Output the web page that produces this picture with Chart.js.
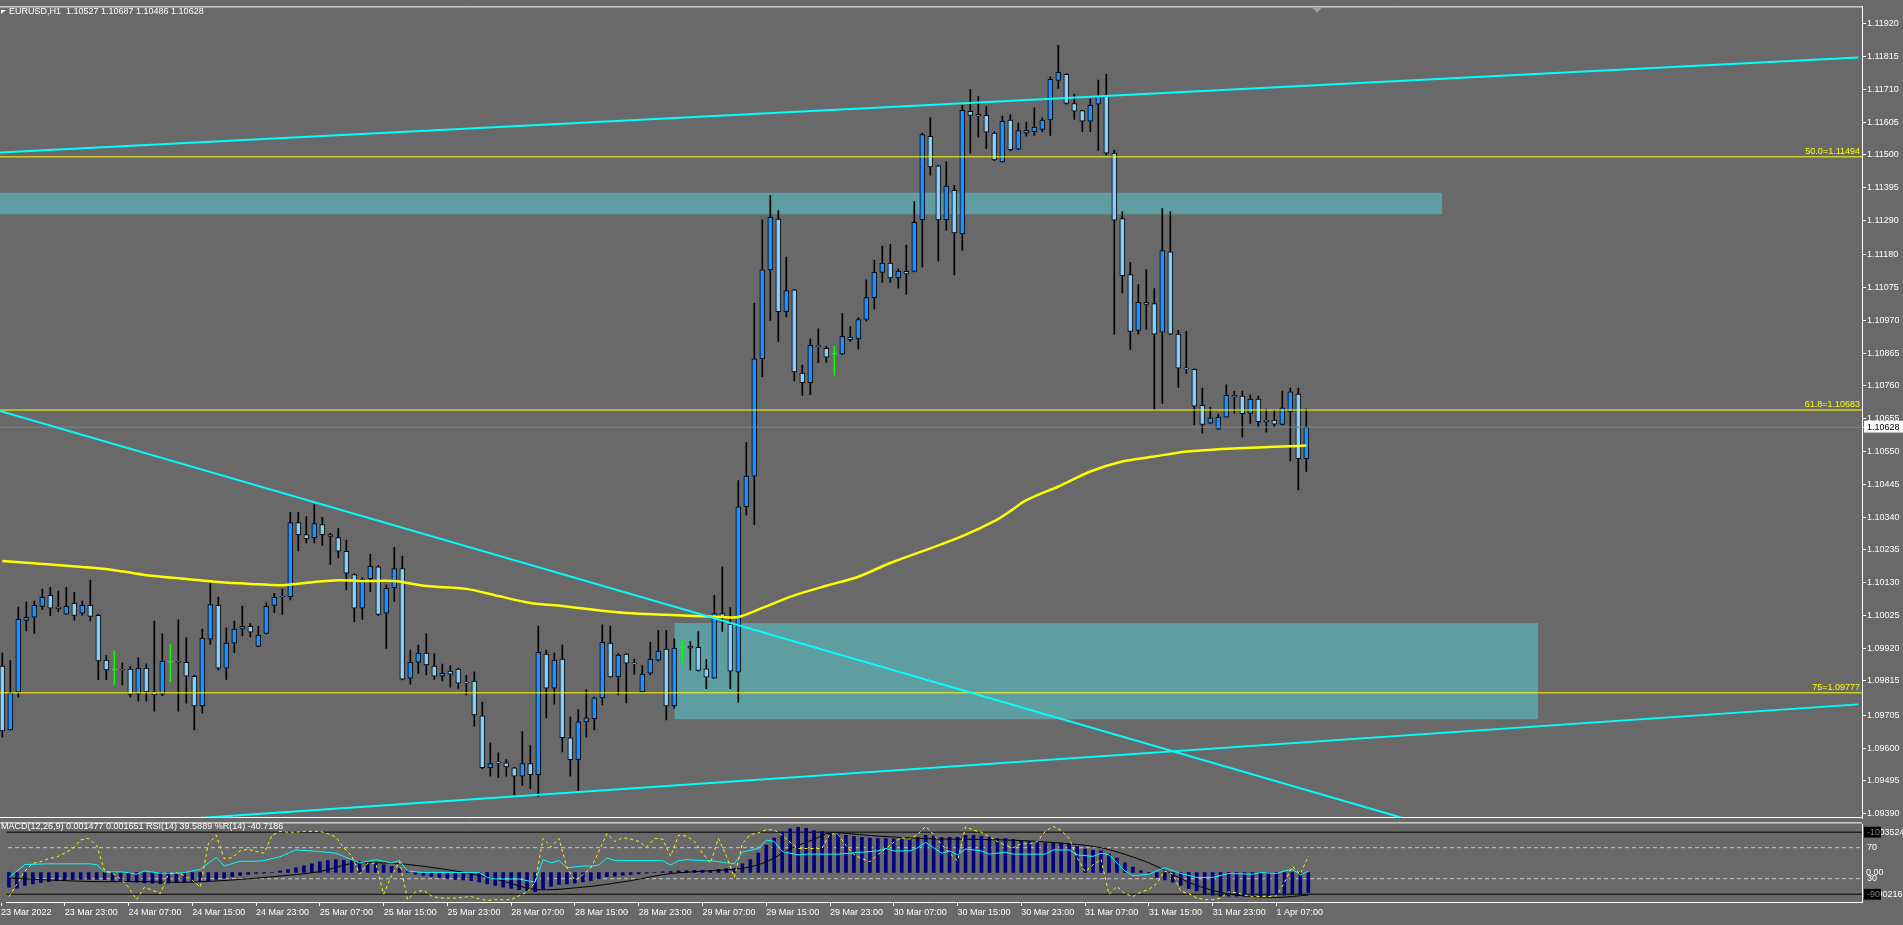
<!DOCTYPE html>
<html>
<head>
<meta charset="utf-8">
<title>EURUSD,H1</title>
<script src="https://cdn.jsdelivr.net/npm/chart.js"></script>
<style>
  html, body { margin: 0; padding: 0; background: #696969; overflow: hidden; }
  #wrap { position: relative; width: 1903px; height: 925px; }
  canvas { position: absolute; left: 0; }
  #main { top: 0; }
  #ind { top: 818px; }
</style>
</head>
<body>
<div id="wrap">
  <canvas id="main" width="1903" height="925"></canvas>
  <canvas id="ind" width="1903" height="107"></canvas>
</div>
<script>
// ---- price axis ----
const PRICE_TICKS = [1.11920, 1.11815, 1.11710, 1.11605, 1.11500, 1.11395, 1.11290, 1.11180, 1.11075,
  1.10970, 1.10865, 1.10760, 1.10655, 1.10550, 1.10445, 1.10340, 1.10235, 1.10130, 1.10025,
  1.09920, 1.09815, 1.09705, 1.09600, 1.09495, 1.09390];
const Y_MIN = 1.09376;
const Y_MAX = 1.11976;
const X_MIN = -0.29;
const X_MAX = 232.46;

// ---- time axis (bar index -> label) ----
const TIME_TICKS = [-1, 7, 15, 23, 31, 39, 47, 55, 63, 71, 79, 87, 95, 103, 111, 119, 127, 135, 143, 151, 159];
const TIME_LABELS = ['23 Mar 2022', '23 Mar 23:00', '24 Mar 07:00', '24 Mar 15:00', '24 Mar 23:00',
  '25 Mar 07:00', '25 Mar 15:00', '25 Mar 23:00', '28 Mar 07:00', '28 Mar 15:00', '28 Mar 23:00',
  '29 Mar 07:00', '29 Mar 15:00', '29 Mar 23:00', '30 Mar 07:00', '30 Mar 15:00', '30 Mar 23:00',
  '31 Mar 07:00', '31 Mar 15:00', '31 Mar 23:00', '1 Apr 07:00'];

// ---- H1 candles ----
const OPEN = [
  1.09863,1.09658,1.09779,1.10009,1.10019,1.10054,1.10089,1.10052,1.10029,1.10064,
  1.10032,1.10057,1.10025,1.09882,1.09850,1.09852,1.09853,1.09773,1.09856,1.09780,
  1.09773,1.09875,1.09877,1.09875,1.09830,1.09735,1.09949,1.10057,1.09856,1.09936,
  1.09981,1.09990,1.09926,1.09967,1.10057,1.10086,1.10085,1.10322,1.10284,1.10274,
  1.10316,1.10284,1.10274,1.10230,1.10156,1.10048,1.10143,1.10181,1.10032,1.10114,
  1.10175,1.09824,1.09875,1.09904,1.09863,1.09830,1.09847,1.09853,1.09810,1.09815,
  1.09703,1.09537,1.09554,1.09553,1.09537,1.09510,1.09550,1.09515,1.09901,1.09792,
  1.09885,1.09633,1.09563,1.09684,1.09694,1.09761,1.09936,1.09828,1.09901,1.09872,
  1.09780,1.09840,1.09882,1.09917,1.09735,1.09922,1.09920,1.09923,1.09854,1.09824,
  1.10031,1.09997,1.09843,1.10373,1.10471,1.10847,1.11132,1.11295,1.10998,1.11068,
  1.10801,1.10771,1.10888,1.10881,1.10862,1.10862,1.10916,1.10911,1.10973,1.11043,
  1.11124,1.11154,1.11106,1.11127,1.11127,1.11292,1.11560,1.11465,1.11292,1.11387,
  1.11247,1.11640,1.11630,1.11627,1.11570,1.11478,1.11612,1.11519,1.11570,1.11575,
  1.11582,1.11612,1.11739,1.11758,1.11665,1.11642,1.11608,1.11663,1.11691,1.11506,
  1.11296,1.11117,1.10938,1.11028,1.11024,1.10932,1.11190,1.10926,1.10817,1.10813,
  1.10698,1.10641,1.10622,1.10660,1.10730,1.10728,1.10672,1.10718,1.10651,1.10651,
  1.10637,1.10677,1.10734,1.10527];
const HIGH = [
  1.09905,1.09880,1.10052,1.10068,1.10071,1.10109,1.10115,1.10103,1.10115,1.10099,
  1.10071,1.10138,1.10029,1.09896,1.09912,1.09873,1.09861,1.09889,1.09870,1.10007,
  1.09966,1.09932,1.10011,1.09953,1.09833,1.09981,1.10127,1.10084,1.09985,1.10007,
  1.10055,1.09999,1.09990,1.10065,1.10096,1.10109,1.10355,1.10355,1.10342,1.10380,
  1.10339,1.10288,1.10303,1.10266,1.10158,1.10145,1.10221,1.10185,1.10123,1.10243,
  1.10215,1.09914,1.09930,1.09966,1.09902,1.09869,1.09864,1.09856,1.09833,1.09844,
  1.09747,1.09617,1.09585,1.09563,1.09538,1.09653,1.09608,1.09991,1.09914,1.09905,
  1.09931,1.09700,1.09723,1.09787,1.09763,1.09995,1.09991,1.09903,1.09903,1.09885,
  1.09864,1.09939,1.09977,1.09977,1.09950,1.09946,1.09941,1.09973,1.09884,1.10089,
  1.10181,1.10050,1.10457,1.10579,1.11025,1.11292,1.11370,1.11322,1.11173,1.11070,
  1.10827,1.10911,1.10943,1.10887,1.10887,1.10993,1.10950,1.10979,1.11100,1.11163,
  1.11208,1.11214,1.11135,1.11211,1.11351,1.11570,1.11619,1.11468,1.11478,1.11403,
  1.11659,1.11710,1.11687,1.11655,1.11574,1.11625,1.11629,1.11603,1.11605,1.11651,
  1.11619,1.11750,1.11851,1.11761,1.11695,1.11643,1.11679,1.11740,1.11758,1.11516,
  1.11318,1.11156,1.11085,1.11133,1.11072,1.11328,1.11318,1.10938,1.10935,1.10814,
  1.10753,1.10692,1.10670,1.10764,1.10743,1.10744,1.10732,1.10728,1.10686,1.10681,
  1.10744,1.10753,1.10753,1.10687];
const LOW = [
  1.09635,1.09657,1.09763,1.09975,1.09967,1.10043,1.10024,1.10037,1.10028,1.10010,
  1.10026,1.10007,1.09819,1.09819,1.09804,1.09802,1.09763,1.09750,1.09750,1.09718,
  1.09768,1.09813,1.09718,1.09744,1.09658,1.09712,1.09933,1.09850,1.09820,1.09906,
  1.09959,1.09956,1.09925,1.09966,1.10034,1.10028,1.10075,1.10232,1.10257,1.10257,
  1.10249,1.10188,1.10209,1.10107,1.10005,1.10012,1.10101,1.10024,1.09919,1.10070,
  1.09818,1.09805,1.09839,1.09834,1.09820,1.09815,1.09795,1.09791,1.09770,1.09670,
  1.09534,1.09510,1.09505,1.09510,1.09450,1.09480,1.09470,1.09445,1.09697,1.09741,
  1.09588,1.09510,1.09464,1.09635,1.09658,1.09738,1.09827,1.09770,1.09745,1.09837,
  1.09779,1.09834,1.09879,1.09690,1.09728,1.09874,1.09850,1.09846,1.09790,1.09824,
  1.09974,1.09790,1.09747,1.10346,1.10316,1.10790,1.10970,1.10903,1.10981,1.10776,
  1.10730,1.10732,1.10835,1.10836,1.10795,1.10860,1.10903,1.10878,1.10968,1.11006,
  1.11092,1.11092,1.11073,1.11054,1.11125,1.11141,1.11435,1.11160,1.11259,1.11116,
  1.11195,1.11506,1.11557,1.11520,1.11482,1.11477,1.11513,1.11517,1.11560,1.11563,
  1.11575,1.11563,1.11713,1.11663,1.11614,1.11575,1.11575,1.11515,1.11500,1.10926,
  1.11058,1.10877,1.10926,1.10941,1.10685,1.10704,1.10924,1.10755,1.10800,1.10636,
  1.10609,1.10640,1.10621,1.10659,1.10672,1.10596,1.10640,1.10628,1.10612,1.10629,
  1.10635,1.10520,1.10427,1.10486];
const CLOSE = [
  1.09655,1.09777,1.10013,1.10019,1.10057,1.10083,1.10048,1.10046,1.10054,1.10025,
  1.10057,1.10022,1.09879,1.09850,1.09850,1.09850,1.09772,1.09856,1.09780,1.09770,
  1.09879,1.09875,1.09875,1.09830,1.09735,1.09952,1.10060,1.09856,1.09936,1.09981,
  1.09990,1.09971,1.09962,1.10054,1.10083,1.10084,1.10322,1.10284,1.10271,1.10319,
  1.10284,1.10278,1.10231,1.10160,1.10048,1.10141,1.10182,1.10028,1.10112,1.10175,
  1.09821,1.09875,1.09904,1.09866,1.09830,1.09840,1.09837,1.09808,1.09808,1.09706,
  1.09537,1.09550,1.09552,1.09540,1.09510,1.09550,1.09515,1.09907,1.09792,1.09882,
  1.09633,1.09563,1.09684,1.09697,1.09761,1.09939,1.09828,1.09898,1.09872,1.09870,
  1.09837,1.09885,1.09911,1.09735,1.09920,1.09922,1.09927,1.09849,1.09827,1.10031,
  1.10019,1.09846,1.10373,1.10471,1.10847,1.11132,1.11300,1.10998,1.11066,1.10805,
  1.10771,1.10890,1.10886,1.10852,1.10862,1.10919,1.10908,1.10973,1.11043,1.11124,
  1.11154,1.11106,1.11128,1.11119,1.11284,1.11565,1.11462,1.11292,1.11400,1.11250,
  1.11643,1.11627,1.11624,1.11573,1.11484,1.11608,1.11517,1.11578,1.11580,1.11589,
  1.11612,1.11742,1.11765,1.11665,1.11640,1.11608,1.11659,1.11688,1.11506,1.11291,
  1.11113,1.10935,1.11028,1.11021,1.10926,1.11194,1.10926,1.10817,1.10815,1.10695,
  1.10637,1.10658,1.10660,1.10730,1.10725,1.10671,1.10718,1.10646,1.10645,1.10638,
  1.10690,1.10741,1.10527,1.10628];

// ---- moving average (yellow), read at sample bars ----
const MA_X = [0,6,10,14,18,23,27,31,35,39,42,45,49,53,58,62,66,70,74,78,83,90,92,95,99,103,107,111,116,120,124,126,128,132,136,140,144,148,152,157,161,163];
const MA_VAL = [1.10199,1.10188,1.10180,1.10170,1.10154,1.10142,1.10132,1.10126,1.10122,1.10132,1.10138,1.10135,1.10135,1.10119,1.10110,1.10087,1.10065,1.10055,1.10043,1.10033,1.10027,1.10020,1.10020,1.10049,1.10089,1.10120,1.10149,1.10193,1.10240,1.10279,1.10327,1.10359,1.10394,1.10438,1.10486,1.10518,1.10534,1.10550,1.10557,1.10563,1.10567,1.10569];

// ---- objects ----
const FIB_NAMES = ['50.0', '61.8', '75'];
const FIB_LEVELS = [1.11494, 1.10683, 1.09777];
const ZONE_FROM = [-1, 84];
const ZONE_TO = [180, 192];
const ZONE_TOP = [1.11379, 1.10001];
const ZONE_BOTTOM = [1.11310, 1.09692];
const TREND_X0 = [-1, -1, -1];
const TREND_Y0 = [1.11507, 1.09331, 1.10685];
const TREND_X1 = [232, 232, 190];
const TREND_Y1 = [1.11812, 1.09740, 1.09265];

// ---- indicator window ----
const MACD = [
  -0.001071,-0.001142,-0.000952,-0.000834,-0.000739,-0.000668,-0.000597,-0.00055,-0.000526,-0.000502,
  -0.000502,-0.000502,-0.000526,-0.000573,-0.000621,-0.000668,-0.000715,-0.000763,-0.000787,-0.00081,
  -0.000787,-0.000739,-0.000715,-0.000692,-0.000668,-0.000597,-0.000502,-0.000407,-0.000313,-0.000218,
  -0.000147,-0.000076,-0.000052,0.00001,0.000114,0.000208,0.000351,0.000493,0.000635,0.000777,
  0.000872,0.000943,0.000919,0.000872,0.000801,0.00073,0.000659,0.000564,0.000445,0.000303,
  0.000114,-0.000123,-0.000218,-0.000289,-0.00036,-0.000431,-0.000502,-0.00055,-0.000597,-0.000692,
  -0.000834,-0.000952,-0.001071,-0.001166,-0.001261,-0.001331,-0.001402,-0.001189,-0.001023,-0.000881,
  -0.000834,-0.000787,-0.000692,-0.000597,-0.000479,-0.000313,-0.000265,-0.000194,-0.000147,-0.0001,
  -0.000052,0.00001,0.000043,0.000066,0.000114,0.000137,0.000161,0.000161,0.000161,0.000232,
  0.00028,0.00028,0.000635,0.000943,0.001417,0.002009,0.00253,0.002957,0.003194,0.003312,
  0.003241,0.003075,0.003004,0.002886,0.002791,0.00272,0.002625,0.002577,0.00253,0.002483,
  0.002483,0.002459,0.002435,0.002483,0.002577,0.00272,0.002672,0.002554,0.002577,0.002577,
  0.00272,0.00272,0.002672,0.002601,0.002483,0.002483,0.002412,0.002341,0.002269,0.002198,
  0.002151,0.002198,0.002151,0.002056,0.001891,0.001725,0.00163,0.001583,0.001346,0.001061,
  0.000706,0.000398,0.000114,-0.000028,-0.00036,-0.00055,-0.000715,-0.000952,-0.001189,-0.001355,
  -0.001545,-0.001663,-0.001734,-0.001734,-0.001734,-0.001734,-0.001687,-0.001734,-0.001734,-0.001687,
  -0.001663,-0.001545,-0.001592,-0.001477];
const SIG_X = [0,5,11,17,22,28,33,39,43,47,50,56,61,66,72,78,83,92,95,98,101,103,106,109,115,120,126,131,137,143,148,151,154,159,163];
const SIG_VAL = [-0.000405,-0.000547,-0.000668,-0.000668,-0.000718,-0.000547,-0.000313,0.000064,0.000661,0.000703,0.00059,0.000114,-0.000476,-0.001236,-0.001073,-0.000597,-0.000078,0.000306,0.000775,0.001727,0.002437,0.002906,0.002814,0.002672,0.00248,0.002437,0.002366,0.002196,0.001819,0.000703,-0.000718,-0.001308,-0.001663,-0.001826,-0.001651];
const RSI_X = [0,2,5,10,11,12,14,15,16,17,19,21,22,24,25,26,27,29,31,32,34,36,39,41,43,44,46,48,49,50,52,59,60,61,64,65,66,67,68,69,70,72,73,74,75,76,82,83,84,85,87,88,91,92,94,95,96,97,99,100,102,104,107,109,110,111,113,114,115,117,118,119,120,122,123,125,126,130,131,133,134,136,137,138,139,140,141,143,145,147,149,151,153,156,157,159,160,161,162,163];
const RSI_VAL = [31.7,48.3,49.2,49.2,48.3,38.8,38.8,37.9,35.8,40,37.1,37.1,37.9,42,50,57.5,46.3,52.5,52.5,53.3,58.3,67.1,65,62.9,54.6,50.4,54.6,50.4,53.3,40,37.9,37.9,31.7,29.6,29.6,27.5,25.4,54.6,50.4,53.3,44.2,46.3,46.3,47.5,56.7,53.3,53.3,47.5,53.3,54.6,53.3,53.3,49.2,64.2,69.2,79.6,78.3,65,60.8,61.7,61.7,61.7,64.2,65.8,69.2,65.8,65.8,70,76.7,62.9,65.8,60.8,68.3,65.8,61.7,64.2,61.7,61.7,67.1,67.1,60.8,58.8,62.9,60.8,50.4,40,33.8,35.8,44.2,36.7,31.7,31.7,36.7,35.8,37.9,36.7,40,42.1,35,39.5889];
const WPR = [
  -93,-77,-60,-50,-48,-44,-42,-37,-31,-20,
  -18,-27,-60,-63,-70,-81,-97,-81,-85,-89,
  -64,-62,-66,-72,-81,-25,-14,-44,-43,-34,
  -32,-35,-37,-14,-9,-10,-10,-9,-9,-9,
  -12,-16,-30,-41,-64,-50,-50,-90,-66,-48,
  -97,-87,-85,-92,-95,-95,-95,-94,-93,-96,
  -98,-97,-97,-97,-92,-87,-75,-18,-29,-18,
  -56,-72,-65,-56,-35,-12,-22,-17,-19,-22,
  -29,-18,-19,-41,-14,-15,-22,-37,-50,-18,
  -41,-68,-25,-13,-11,-7,-7,-14,-23,-31,
  -31,-31,-31,-12,-13,-27,-39,-44,-48,-39,
  -31,-23,-17,-19,-13,-2.5,-13,-26,-37,-47,
  -3,-7.5,-10,-16,-22,-27,-30,-25,-25,-22,
  -9,-2.5,-8,-18,-43,-61,-52,-45,-90,-80,
  -89,-93,-87,-84,-76,-60,-64,-86,-89,-95,
  -97,-97,-95,-87,-88,-91,-93,-93,-93,-92,
  -75,-54,-64,-40.7186];
const MACD_MAX = 0.003524;
const MACD_MIN = -0.002161;
const RSI_LEVELS = [70, 30];
const WPR_LEVELS = [-10, -90];

const FONT = { family: '"Liberation Sans", Arial, sans-serif', size: 9 };
const FONT_CSS = '9px "Liberation Sans", Arial, sans-serif';
const BULL = '#1e90ff';
const BEAR = '#87cefa';
const DOJI = '#00ff00';

const last = CLOSE.length - 1;
const LAST_PRICE = CLOSE[last];

function barColor(i) {
  if (CLOSE[i] > OPEN[i]) return BULL;
  if (CLOSE[i] < OPEN[i]) return BEAR;
  return DOJI;
}

function hLine(x0, x1, y) {
  return [{ x: x0, y: y }, { x: x1, y: y }];
}

// labels, frame and header drawn on top of the price window
const priceWindow = {
  id: 'priceWindow',
  afterDraw(chart) {
    const { ctx, chartArea: a, scales: { y } } = chart;
    ctx.save();
    ctx.font = FONT_CSS;

    ctx.fillStyle = '#ffff00';
    ctx.textAlign = 'right';
    ctx.textBaseline = 'bottom';
    FIB_LEVELS.forEach((lv, i) => {
      ctx.fillText(FIB_NAMES[i] + '=' + lv.toFixed(5), a.right - 2, Math.round(y.getPixelForValue(lv)) - 1);
    });

    ctx.strokeStyle = '#ffffff';
    ctx.lineWidth = 1;
    ctx.beginPath();
    ctx.moveTo(0, a.top + 0.5);
    ctx.lineTo(a.right, a.top + 0.5);
    ctx.moveTo(0, a.bottom - 0.5);
    ctx.lineTo(a.right, a.bottom - 0.5);
    ctx.stroke();

    // chart shift marker
    ctx.fillStyle = '#a0a0a0';
    ctx.beginPath();
    ctx.moveTo(1312, a.top + 1);
    ctx.lineTo(1322, a.top + 1);
    ctx.lineTo(1317, a.top + 6);
    ctx.closePath();
    ctx.fill();

    ctx.fillStyle = '#ffffff';
    ctx.beginPath();
    ctx.moveTo(1, 10);
    ctx.lineTo(6, 10);
    ctx.lineTo(1, 14);
    ctx.closePath();
    ctx.fill();

    ctx.textAlign = 'left';
    ctx.textBaseline = 'middle';
    const hdr = 'EURUSD,H1  ' + [OPEN[last], HIGH[last], LOW[last], CLOSE[last]].map(v => v.toFixed(5)).join(' ');
    ctx.fillText(hdr, 9, 12);
    ctx.restore();
  }
};

const mainDatasets = [];
ZONE_FROM.forEach((x0, i) => {
  mainDatasets.push({
    type: 'line', data: hLine(x0, ZONE_TO[i], ZONE_TOP[i]),
    fill: { value: ZONE_BOTTOM[i] }, backgroundColor: '#5f9ea0',
    borderColor: 'rgba(0,0,0,0)', borderWidth: 0, pointRadius: 0, order: 20
  });
});
mainDatasets.push({
  type: 'bar', label: 'wick',
  data: OPEN.map((o, i) => ({ x: i, y: [LOW[i], HIGH[i]] })),
  backgroundColor: OPEN.map((o, i) => barColor(i) === DOJI ? DOJI : '#000000'),
  barThickness: 1, grouped: false, order: 12
});
mainDatasets.push({
  type: 'bar', label: 'body',
  data: OPEN.map((o, i) => ({ x: i, y: [o, CLOSE[i]] })),
  backgroundColor: OPEN.map((o, i) => barColor(i)),
  borderColor: OPEN.map((o, i) => barColor(i) === DOJI ? DOJI : '#000000'),
  borderWidth: 1, borderSkipped: false, barThickness: 5, minBarLength: 1,
  grouped: false, order: 11
});
mainDatasets.push({
  type: 'line', label: 'MA', data: MA_X.map((x, i) => ({ x: x, y: MA_VAL[i] })),
  borderColor: '#ffff00', borderWidth: 2.5, pointRadius: 0, tension: 0.3, order: 9
});
FIB_LEVELS.forEach(lv => {
  mainDatasets.push({
    type: 'line', data: hLine(-1, 240, lv), borderColor: '#ffff00',
    borderWidth: 1, pointRadius: 0, order: 8
  });
});
mainDatasets.push({
  type: 'line', data: hLine(-1, 240, LAST_PRICE), borderColor: '#778899',
  borderWidth: 1, pointRadius: 0, order: 8
});
TREND_X0.forEach((x0, i) => {
  mainDatasets.push({
    type: 'line', data: [{ x: x0, y: TREND_Y0[i] }, { x: TREND_X1[i], y: TREND_Y1[i] }],
    borderColor: '#00ffff', borderWidth: 2, pointRadius: 0, order: 5
  });
});

new Chart(document.getElementById('main'), {
  type: 'bar',
  data: { datasets: mainDatasets },
  options: {
    responsive: false,
    animation: false,
    devicePixelRatio: 1,
    layout: { padding: { top: 3, bottom: 107, left: 0, right: 0 } },
    plugins: { legend: { display: false }, tooltip: { enabled: false } },
    scales: {
      x: { type: 'linear', display: false, min: X_MIN, max: X_MAX, offset: false },
      y: {
        position: 'right', min: Y_MIN, max: Y_MAX,
        afterBuildTicks: s => { s.ticks = PRICE_TICKS.map(v => ({ value: v })).concat([{ value: LAST_PRICE }]); },
        afterFit: s => { s.width = 41; },
        ticks: {
          autoSkip: false, padding: 1, font: FONT,
          color: c => c.tick && c.tick.value === LAST_PRICE ? '#000000' : '#ffffff',
          showLabelBackdrop: c => !!(c.tick && c.tick.value === LAST_PRICE),
          backdropColor: '#ffffff',
          backdropPadding: { top: 1, bottom: 0, left: 3, right: 6 },
          callback: v => Number(v).toFixed(5)
        },
        grid: { drawOnChartArea: false, tickLength: 4, color: '#ffffff' },
        border: { color: '#ffffff' }
      }
    }
  },
  plugins: [priceWindow]
});

// ---- MACD / RSI / %R window ----
const subWindow = {
  id: 'subWindow',
  beforeDraw(chart) {
    const { ctx, chartArea: a, scales: { yr, ym } } = chart;
    ctx.save();
    ctx.font = FONT_CSS;
    ctx.fillStyle = '#ffffff';
    ctx.textAlign = 'left';
    ctx.textBaseline = 'middle';
    ctx.fillText(MACD_MAX.toFixed(6), a.right + 5, yr.getPixelForValue(90));
    ctx.fillText('0.00', a.right + 4, ym.getPixelForValue(0));
    ctx.fillText(MACD_MIN.toFixed(6), a.right + 5, yr.getPixelForValue(10));
    ctx.restore();
  },
  beforeDatasetsDraw(chart) {
    const { ctx } = chart;
    ctx.save();
    ctx.font = FONT_CSS;
    ctx.fillStyle = '#ffffff';
    ctx.textBaseline = 'middle';
    const txt = 'MACD(12,26,9) ' + Math.abs(MACD[last]).toFixed(6) + ' ' + Math.abs(SIG_VAL[SIG_VAL.length - 1]).toFixed(6) +
      ' RSI(14) ' + RSI_VAL[RSI_VAL.length - 1].toFixed(4) + ' %R(14) ' + WPR[last].toFixed(4);
    ctx.fillText(txt, 1, 9);
    ctx.restore();
  },
  afterDraw(chart) {
    const { ctx, chartArea: a } = chart;
    ctx.save();
    ctx.strokeStyle = '#ffffff';
    ctx.lineWidth = 1;
    ctx.beginPath();
    ctx.moveTo(0, a.top - 1.5);
    ctx.lineTo(a.right, a.top - 1.5);
    ctx.stroke();
    ctx.restore();
  }
};

const subDatasets = [];
WPR_LEVELS.forEach(lv => {
  subDatasets.push({ type: 'line', data: hLine(-1, 240, lv), yAxisID: 'yw', borderColor: '#000000', borderWidth: 1, pointRadius: 0, order: 20 });
});
RSI_LEVELS.forEach(lv => {
  subDatasets.push({ type: 'line', data: hLine(-1, 240, lv), yAxisID: 'yr', borderColor: '#c8c8c8', borderWidth: 1, borderDash: [4, 3], pointRadius: 0, order: 20 });
});
subDatasets.push({
  type: 'bar', label: 'MACD', data: MACD.map((v, i) => ({ x: i, y: v })), yAxisID: 'ym',
  backgroundColor: '#000080', barThickness: 3, grouped: false, order: 10
});
subDatasets.push({
  type: 'line', label: 'Signal', data: SIG_X.map((x, i) => ({ x: x, y: SIG_VAL[i] })), yAxisID: 'ym',
  borderColor: '#000000', borderWidth: 1, pointRadius: 0, tension: 0.3, order: 8
});
subDatasets.push({
  type: 'line', label: 'RSI', data: RSI_X.map((x, i) => ({ x: x, y: RSI_VAL[i] })), yAxisID: 'yr',
  borderColor: '#00ffff', borderWidth: 1, pointRadius: 0, order: 6
});
subDatasets.push({
  type: 'line', label: '%R', data: WPR.map((v, i) => ({ x: i, y: v })), yAxisID: 'yw',
  borderColor: '#ffff00', borderWidth: 1, borderDash: [3, 3], pointRadius: 0, order: 4
});

const RSI_AXIS_TICKS = [90, 70, 30, 10];
const RSI_AXIS_TEXT = ['-10', '70', '30', '-90'];

new Chart(document.getElementById('ind'), {
  type: 'bar',
  data: { datasets: subDatasets },
  options: {
    responsive: false,
    animation: false,
    devicePixelRatio: 1,
    layout: { padding: { top: 4, bottom: 0, left: 0, right: 0 } },
    plugins: { legend: { display: false }, tooltip: { enabled: false } },
    scales: {
      x: {
        type: 'linear', min: X_MIN, max: X_MAX, offset: false, position: 'bottom',
        afterBuildTicks: s => { s.ticks = TIME_TICKS.map(v => ({ value: v })); },
        afterFit: s => { s.height = 23; },
        ticks: {
          autoSkip: false, maxRotation: 0, minRotation: 0, align: 'start', padding: 1,
          color: '#ffffff', font: FONT,
          callback: (v, i) => TIME_LABELS[i]
        },
        grid: { drawOnChartArea: false, tickLength: 4, color: '#ffffff', offset: false },
        border: { color: '#ffffff' }
      },
      yr: {
        position: 'right', min: 0, max: 100,
        afterBuildTicks: s => { s.ticks = RSI_AXIS_TICKS.map(v => ({ value: v })); },
        afterFit: s => { s.width = 41; },
        ticks: {
          autoSkip: false, padding: 1, font: FONT,
          color: c => (c.index === 0 || c.index === 3) ? '#808080' : '#ffffff',
          showLabelBackdrop: true,
          backdropColor: c => (c.index === 0 || c.index === 3) ? '#000000' : 'rgba(0,0,0,0)',
          backdropPadding: { top: 0, bottom: 0, left: 3, right: 1 },
          callback: (v, i) => RSI_AXIS_TEXT[i]
        },
        grid: { drawOnChartArea: false, tickLength: 4, color: 'rgba(0,0,0,0)' },
        border: { color: '#ffffff' }
      },
      yw: { display: false, min: -100, max: 0 },
      ym: { display: false, min: MACD_MIN, max: MACD_MAX }
    }
  },
  plugins: [subWindow]
});
</script>
</body>
</html>
